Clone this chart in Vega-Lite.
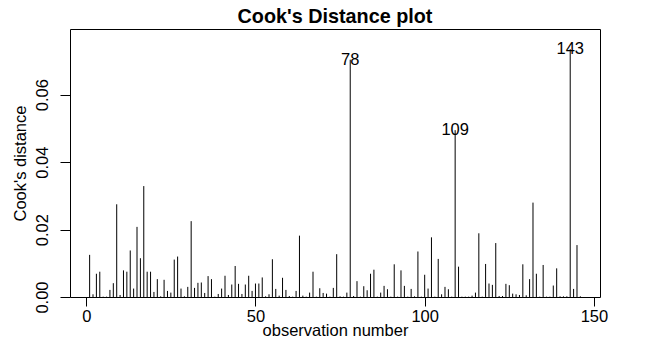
{
  "$schema": "https://vega.github.io/schema/vega-lite/v6.json",
  "autosize": {"type": "none"},
  "padding": {"left": 70, "top": 29, "right": 48, "bottom": 58},
  "width": 530,
  "height": 268,
  "background": "white",
  "title": {
    "text": "Cook's Distance plot",
    "font": "Liberation Sans",
    "fontSize": 19.8,
    "fontWeight": "bold",
    "color": "black",
    "anchor": "middle",
    "baseline": "alphabetic",
    "offset": 8,
    "dy": 22
  },
  "config": {
    "view": {"stroke": "black", "strokeWidth": 1},
    "font": "Liberation Sans"
  },
  "data": {
    "values": [
      {"obs": 1, "cd": 0.0125, "label": ""},
      {"obs": 2, "cd": 0.0008, "label": ""},
      {"obs": 3, "cd": 0.0069, "label": ""},
      {"obs": 4, "cd": 0.0075, "label": ""},
      {"obs": 5, "cd": 0.0001, "label": ""},
      {"obs": 6, "cd": 0.0001, "label": ""},
      {"obs": 7, "cd": 0.0021, "label": ""},
      {"obs": 8, "cd": 0.0041, "label": ""},
      {"obs": 9, "cd": 0.0275, "label": ""},
      {"obs": 10, "cd": 0.0006, "label": ""},
      {"obs": 11, "cd": 0.0079, "label": ""},
      {"obs": 12, "cd": 0.0075, "label": ""},
      {"obs": 13, "cd": 0.0138, "label": ""},
      {"obs": 14, "cd": 0.0025, "label": ""},
      {"obs": 15, "cd": 0.0208, "label": ""},
      {"obs": 16, "cd": 0.0115, "label": ""},
      {"obs": 17, "cd": 0.0329, "label": ""},
      {"obs": 18, "cd": 0.0075, "label": ""},
      {"obs": 19, "cd": 0.0075, "label": ""},
      {"obs": 20, "cd": 0.0015, "label": ""},
      {"obs": 21, "cd": 0.0053, "label": ""},
      {"obs": 22, "cd": 0.0002, "label": ""},
      {"obs": 23, "cd": 0.0051, "label": ""},
      {"obs": 24, "cd": 0.0018, "label": ""},
      {"obs": 25, "cd": 0.0013, "label": ""},
      {"obs": 26, "cd": 0.0111, "label": ""},
      {"obs": 27, "cd": 0.012, "label": ""},
      {"obs": 28, "cd": 0.0025, "label": ""},
      {"obs": 29, "cd": 0.0002, "label": ""},
      {"obs": 30, "cd": 0.003, "label": ""},
      {"obs": 31, "cd": 0.0225, "label": ""},
      {"obs": 32, "cd": 0.0027, "label": ""},
      {"obs": 33, "cd": 0.0042, "label": ""},
      {"obs": 34, "cd": 0.0043, "label": ""},
      {"obs": 35, "cd": 0.0012, "label": ""},
      {"obs": 36, "cd": 0.0062, "label": ""},
      {"obs": 37, "cd": 0.0053, "label": ""},
      {"obs": 38, "cd": 0.0001, "label": ""},
      {"obs": 39, "cd": 0.0009, "label": ""},
      {"obs": 40, "cd": 0.0025, "label": ""},
      {"obs": 41, "cd": 0.0063, "label": ""},
      {"obs": 42, "cd": 0.0006, "label": ""},
      {"obs": 43, "cd": 0.0037, "label": ""},
      {"obs": 44, "cd": 0.0092, "label": ""},
      {"obs": 45, "cd": 0.0039, "label": ""},
      {"obs": 46, "cd": 0.0009, "label": ""},
      {"obs": 47, "cd": 0.0037, "label": ""},
      {"obs": 48, "cd": 0.0063, "label": ""},
      {"obs": 49, "cd": 0.0018, "label": ""},
      {"obs": 50, "cd": 0.004, "label": ""},
      {"obs": 51, "cd": 0.004, "label": ""},
      {"obs": 52, "cd": 0.0058, "label": ""},
      {"obs": 53, "cd": 0.0002, "label": ""},
      {"obs": 54, "cd": 0.0008, "label": ""},
      {"obs": 55, "cd": 0.0112, "label": ""},
      {"obs": 56, "cd": 0.0024, "label": ""},
      {"obs": 57, "cd": 0.0004, "label": ""},
      {"obs": 58, "cd": 0.0057, "label": ""},
      {"obs": 59, "cd": 0.0021, "label": ""},
      {"obs": 60, "cd": 0.0003, "label": ""},
      {"obs": 61, "cd": 0.0001, "label": ""},
      {"obs": 62, "cd": 0.0018, "label": ""},
      {"obs": 63, "cd": 0.0182, "label": ""},
      {"obs": 64, "cd": 0.0004, "label": ""},
      {"obs": 65, "cd": 0.0001, "label": ""},
      {"obs": 66, "cd": 0.0013, "label": ""},
      {"obs": 67, "cd": 0.0075, "label": ""},
      {"obs": 68, "cd": 0.0001, "label": ""},
      {"obs": 69, "cd": 0.0026, "label": ""},
      {"obs": 70, "cd": 0.0012, "label": ""},
      {"obs": 71, "cd": 0.001, "label": ""},
      {"obs": 72, "cd": 0.0001, "label": ""},
      {"obs": 73, "cd": 0.0027, "label": ""},
      {"obs": 74, "cd": 0.0127, "label": ""},
      {"obs": 75, "cd": 0.0002, "label": ""},
      {"obs": 76, "cd": 0.0001, "label": ""},
      {"obs": 77, "cd": 0.0013, "label": ""},
      {"obs": 78, "cd": 0.0704, "label": "78"},
      {"obs": 79, "cd": 0.0003, "label": ""},
      {"obs": 80, "cd": 0.0047, "label": ""},
      {"obs": 81, "cd": 0.0001, "label": ""},
      {"obs": 82, "cd": 0.0032, "label": ""},
      {"obs": 83, "cd": 0.002, "label": ""},
      {"obs": 84, "cd": 0.0069, "label": ""},
      {"obs": 85, "cd": 0.0081, "label": ""},
      {"obs": 86, "cd": 0.0001, "label": ""},
      {"obs": 87, "cd": 0.0013, "label": ""},
      {"obs": 88, "cd": 0.0033, "label": ""},
      {"obs": 89, "cd": 0.0023, "label": ""},
      {"obs": 90, "cd": 0.0001, "label": ""},
      {"obs": 91, "cd": 0.0097, "label": ""},
      {"obs": 92, "cd": 0.0001, "label": ""},
      {"obs": 93, "cd": 0.0079, "label": ""},
      {"obs": 94, "cd": 0.0033, "label": ""},
      {"obs": 95, "cd": 0.0001, "label": ""},
      {"obs": 96, "cd": 0.0024, "label": ""},
      {"obs": 97, "cd": 0.0002, "label": ""},
      {"obs": 98, "cd": 0.0135, "label": ""},
      {"obs": 99, "cd": 0.0001, "label": ""},
      {"obs": 100, "cd": 0.0066, "label": ""},
      {"obs": 101, "cd": 0.0025, "label": ""},
      {"obs": 102, "cd": 0.0177, "label": ""},
      {"obs": 103, "cd": 0.0001, "label": ""},
      {"obs": 104, "cd": 0.0113, "label": ""},
      {"obs": 105, "cd": 0.0008, "label": ""},
      {"obs": 106, "cd": 0.003, "label": ""},
      {"obs": 107, "cd": 0.0023, "label": ""},
      {"obs": 108, "cd": 0.0001, "label": ""},
      {"obs": 109, "cd": 0.0495, "label": "109"},
      {"obs": 110, "cd": 0.009, "label": ""},
      {"obs": 111, "cd": 0.0001, "label": ""},
      {"obs": 112, "cd": 0.0001, "label": ""},
      {"obs": 113, "cd": 0.0001, "label": ""},
      {"obs": 114, "cd": 0.0004, "label": ""},
      {"obs": 115, "cd": 0.0013, "label": ""},
      {"obs": 116, "cd": 0.0189, "label": ""},
      {"obs": 117, "cd": 0.0001, "label": ""},
      {"obs": 118, "cd": 0.0098, "label": ""},
      {"obs": 119, "cd": 0.004, "label": ""},
      {"obs": 120, "cd": 0.0036, "label": ""},
      {"obs": 121, "cd": 0.016, "label": ""},
      {"obs": 122, "cd": 0.0003, "label": ""},
      {"obs": 123, "cd": 0.0003, "label": ""},
      {"obs": 124, "cd": 0.0039, "label": ""},
      {"obs": 125, "cd": 0.0035, "label": ""},
      {"obs": 126, "cd": 0.001, "label": ""},
      {"obs": 127, "cd": 0.0008, "label": ""},
      {"obs": 128, "cd": 0.0006, "label": ""},
      {"obs": 129, "cd": 0.0097, "label": ""},
      {"obs": 130, "cd": 0.0005, "label": ""},
      {"obs": 131, "cd": 0.0053, "label": ""},
      {"obs": 132, "cd": 0.028, "label": ""},
      {"obs": 133, "cd": 0.0069, "label": ""},
      {"obs": 134, "cd": 0.0001, "label": ""},
      {"obs": 135, "cd": 0.0095, "label": ""},
      {"obs": 136, "cd": 0.0001, "label": ""},
      {"obs": 137, "cd": 0.0001, "label": ""},
      {"obs": 138, "cd": 0.0034, "label": ""},
      {"obs": 139, "cd": 0.0085, "label": ""},
      {"obs": 140, "cd": 0.0002, "label": ""},
      {"obs": 141, "cd": 0.0002, "label": ""},
      {"obs": 142, "cd": 0.0002, "label": ""},
      {"obs": 143, "cd": 0.0735, "label": "143"},
      {"obs": 144, "cd": 0.0024, "label": ""},
      {"obs": 145, "cd": 0.0154, "label": ""},
      {"obs": 146, "cd": 0.0002, "label": ""}
    ]
  },
  "encoding": {
    "x": {
      "field": "obs",
      "type": "quantitative",
      "scale": {"domain": [-4.8, 151.8], "nice": false, "zero": false},
      "axis": {
        "values": [0, 50, 100, 150],
        "domain": false,
        "grid": false,
        "ticks": true,
        "tickColor": "black",
        "tickSize": 9,
        "labelFont": "Liberation Sans",
        "labelFontSize": 16.5,
        "labelColor": "black",
        "labelPadding": 2,
        "labelFlush": false,
        "title": "observation number",
        "titleFont": "Liberation Sans",
        "titleFontSize": 16.5,
        "titleFontWeight": "normal",
        "titleColor": "black",
        "titlePadding": -2
      }
    },
    "y": {
      "field": "cd",
      "type": "quantitative",
      "scale": {"domain": [0, 0.0795], "nice": false, "zero": true},
      "axis": {
        "values": [0, 0.02, 0.04, 0.06],
        "format": ".2f",
        "domain": false,
        "grid": false,
        "tickColor": "black",
        "tickSize": 10,
        "labelAngle": -90,
        "labelAlign": "center",
        "labelBaseline": "bottom",
        "labelFont": "Liberation Sans",
        "labelFontSize": 16.5,
        "labelColor": "black",
        "labelPadding": 10,
        "labelFlush": false,
        "labelOverlap": false,
        "title": "Cook's distance",
        "titleFont": "Liberation Sans",
        "titleFontSize": 16.5,
        "titleFontWeight": "normal",
        "titleColor": "black",
        "titlePadding": 6
      }
    }
  },
  "layer": [
    {
      "mark": {"type": "rule", "color": "black", "strokeWidth": 1},
      "encoding": {"y2": {"datum": 0}}
    },
    {
      "transform": [{"filter": "datum.label != ''"}],
      "mark": {
        "type": "text",
        "font": "Liberation Sans",
        "fontSize": 16.5,
        "color": "black",
        "align": "center",
        "baseline": "middle"
      },
      "encoding": {"text": {"field": "label"}}
    }
  ]
}
